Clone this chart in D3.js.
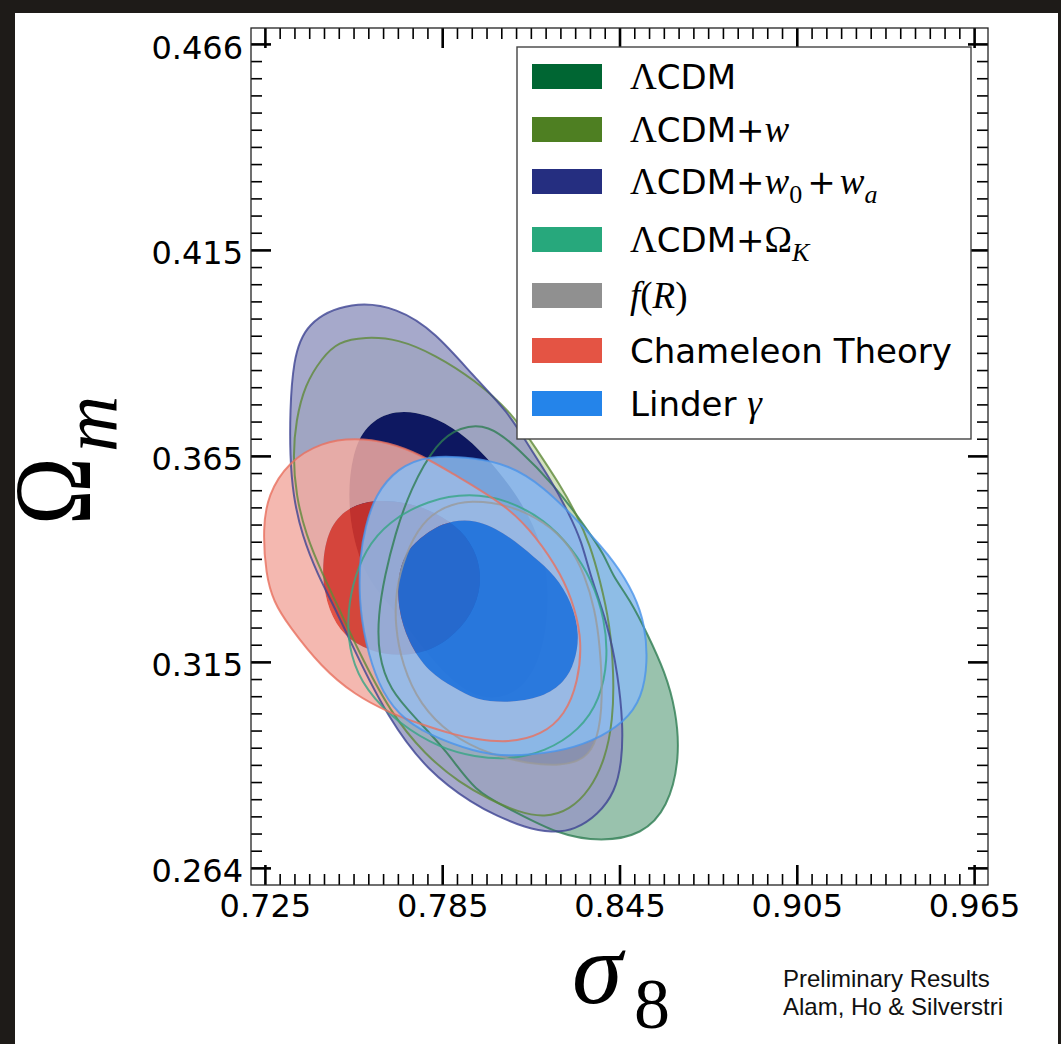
<!DOCTYPE html>
<html><head><meta charset="utf-8">
<script src="https://cdn.jsdelivr.net/npm/d3@7"></script>
<style>body{margin:0;background:#fff;} svg{display:block}</style>
</head><body>
<svg id="c" width="1061" height="1044"></svg>
<script>
// ---------- data ----------
const xTickValues = [0.725, 0.785, 0.845, 0.905, 0.965];
const xTickLabels = ["0.725", "0.785", "0.845", "0.905", "0.965"];
const yTickValues = [0.264, 0.3145, 0.365, 0.4155, 0.466];
const yTickLabels = ["0.264", "0.315", "0.365", "0.415", "0.466"];
const xLimits = [0.7203, 0.9697];
const yLimits = [0.2598, 0.4699];

const models = ["ΛCDM", "ΛCDM+w", "ΛCDM+w0+wa", "ΛCDM+ΩK", "f(R)", "Chameleon Theory", "Linder γ"];
const modelColors = ["#006633", "#4e7f22", "#252e80", "#27a87c", "#909090", "#e45444", "#2484ea"];

// contour outlines: [sigma8, Omega_m]
const lcdmOuter = [[0.8005,0.3728],[0.8106,0.3670],[0.8232,0.3576],[0.8333,0.3478],[0.8401,0.3405],[0.8425,0.3358],[0.8486,0.3297],[0.8546,0.3211],[0.8604,0.3120],[0.8641,0.3027],[0.8655,0.2910],[0.8614,0.2787],[0.8526,0.2721],[0.8391,0.2704],[0.8242,0.2721],[0.8073,0.2787],[0.7961,0.2826],[0.7869,0.2924],[0.7758,0.3008],[0.7673,0.3076],[0.7633,0.3162],[0.7633,0.3260],[0.7656,0.3358],[0.7690,0.3456],[0.7741,0.3567],[0.7832,0.3684],[0.7910,0.3721]];
const wOuter = [[0.7589,0.3942],[0.7700,0.3937],[0.7826,0.3898],[0.7961,0.3836],[0.8086,0.3755],[0.8164,0.3672],[0.8249,0.3579],[0.8306,0.3505],[0.8350,0.3432],[0.8384,0.3346],[0.8418,0.3236],[0.8431,0.3113],[0.8428,0.3003],[0.8401,0.2905],[0.8350,0.2831],[0.8282,0.2782],[0.8198,0.2763],[0.8106,0.2777],[0.8012,0.2807],[0.7910,0.2848],[0.7792,0.2917],[0.7673,0.3022],[0.7565,0.3174],[0.7497,0.3282],[0.7443,0.3363],[0.7389,0.3456],[0.7355,0.3554],[0.7345,0.3652],[0.7355,0.3736],[0.7385,0.3824],[0.7443,0.3890],[0.7497,0.3930]];
const w0waOuter = [[0.7545,0.4030],[0.7700,0.4013],[0.7826,0.3954],[0.7961,0.3841],[0.8073,0.3758],[0.8140,0.3677],[0.8222,0.3586],[0.8276,0.3513],[0.8323,0.3439],[0.8350,0.3358],[0.8411,0.3236],[0.8445,0.3113],[0.8462,0.2991],[0.8458,0.2900],[0.8435,0.2826],[0.8377,0.2770],[0.8299,0.2733],[0.8222,0.2726],[0.8130,0.2738],[0.8029,0.2770],[0.7961,0.2794],[0.7802,0.2875],[0.7666,0.3008],[0.7555,0.3170],[0.7487,0.3277],[0.7429,0.3358],[0.7375,0.3456],[0.7345,0.3554],[0.7335,0.3652],[0.7335,0.3758],[0.7345,0.3880],[0.7385,0.3978]];
const w0waInner = [[0.7690,0.3765],[0.7809,0.3751],[0.7910,0.3709],[0.7995,0.3652],[0.8079,0.3579],[0.8164,0.3481],[0.8208,0.3370],[0.8208,0.3248],[0.8181,0.3150],[0.8120,0.3076],[0.8029,0.3052],[0.7944,0.3064],[0.7842,0.3125],[0.7741,0.3223],[0.7656,0.3297],[0.7589,0.3358],[0.7545,0.3456],[0.7531,0.3554],[0.7545,0.3652],[0.7589,0.3726]];
const okOuter = [[0.7944,0.3559],[0.8073,0.3542],[0.8198,0.3493],[0.8289,0.3424],[0.8357,0.3346],[0.8401,0.3248],[0.8411,0.3150],[0.8384,0.3052],[0.8316,0.2978],[0.8198,0.2924],[0.8073,0.2905],[0.7961,0.2912],[0.7842,0.2934],[0.7707,0.2991],[0.7589,0.3076],[0.7538,0.3162],[0.7528,0.3248],[0.7545,0.3334],[0.7589,0.3420],[0.7666,0.3488],[0.7802,0.3542]];
const frOuter = [[0.7944,0.3542],[0.8079,0.3530],[0.8198,0.3488],[0.8282,0.3432],[0.8333,0.3358],[0.8367,0.3272],[0.8384,0.3187],[0.8394,0.3052],[0.8377,0.2954],[0.8333,0.2905],[0.8249,0.2890],[0.8147,0.2895],[0.8012,0.2917],[0.7876,0.2966],[0.7775,0.3040],[0.7714,0.3138],[0.7690,0.3236],[0.7693,0.3321],[0.7724,0.3407],[0.7781,0.3488],[0.7859,0.3527]];
const chamOuter = [[0.7253,0.3358],[0.7280,0.3292],[0.7328,0.3236],[0.7443,0.3130],[0.7555,0.3064],[0.7666,0.3022],[0.7781,0.2991],[0.7893,0.2966],[0.7961,0.2956],[0.8073,0.2946],[0.8188,0.2966],[0.8266,0.3015],[0.8310,0.3096],[0.8323,0.3194],[0.8299,0.3277],[0.8255,0.3358],[0.8164,0.3456],[0.8073,0.3523],[0.7961,0.3574],[0.7893,0.3603],[0.7781,0.3652],[0.7666,0.3684],[0.7555,0.3694],[0.7443,0.3684],[0.7328,0.3635],[0.7260,0.3554],[0.7243,0.3473]];
const chamInner = [[0.7470,0.3481],[0.7538,0.3527],[0.7622,0.3542],[0.7724,0.3537],[0.7826,0.3513],[0.7917,0.3469],[0.7971,0.3407],[0.7985,0.3334],[0.7951,0.3260],[0.7876,0.3199],[0.7775,0.3162],[0.7656,0.3160],[0.7555,0.3187],[0.7487,0.3236],[0.7450,0.3309],[0.7443,0.3395]];
const lindOuter = [[0.7802,0.3652],[0.7961,0.3645],[0.8073,0.3628],[0.8188,0.3579],[0.8333,0.3473],[0.8435,0.3390],[0.8502,0.3309],[0.8536,0.3236],[0.8546,0.3145],[0.8526,0.3057],[0.8469,0.2998],[0.8357,0.2949],[0.8242,0.2924],[0.8073,0.2912],[0.7961,0.2924],[0.7802,0.2966],[0.7700,0.3015],[0.7633,0.3089],[0.7589,0.3194],[0.7568,0.3297],[0.7572,0.3407],[0.7589,0.3473],[0.7622,0.3554],[0.7700,0.3621]];
const lindInner = [[0.7961,0.3498],[0.8073,0.3456],[0.8164,0.3400],[0.8232,0.3358],[0.8289,0.3292],[0.8316,0.3211],[0.8299,0.3145],[0.8266,0.3096],[0.8188,0.3057],[0.8073,0.3044],[0.7961,0.3052],[0.7893,0.3081],[0.7802,0.3120],[0.7734,0.3194],[0.7700,0.3277],[0.7700,0.3358],[0.7724,0.3407],[0.7758,0.3439],[0.7849,0.3488]];

// legend label pieces: [text, style]
const legendLabels = [
  [["Λ","serif"],["CDM","sans"]],
  [["Λ","serif"],["CDM+","sans"],["w","ital"]],
  [["Λ","serif"],["CDM+","sans"],["w","ital"],["0","sub"],["+","sans"],["w","ital"],["a","subi"]],
  [["Λ","serif"],["CDM+","sans"],["Ω","serif"],["K","subi"]],
  [["f","ital"],["(","serif"],["R","ital"],[")","serif"]],
  [["Chameleon Theory","sans"]],
  [["Linder ","sans"],["γ","ital"]]
];
const noteLines = ["Preliminary Results", "Alam, Ho & Silverstri"];

// ---------- layout ----------
const W = 1061, H = 1044;
const plot = {l: 251, r: 988, t: 28, b: 885};
const svg = d3.select("#c");
svg.append("rect").attr("width", W).attr("height", H).attr("fill", "#fff");
const dark = "#1e1b18";
svg.append("rect").attr("x",0).attr("y",0).attr("width",W).attr("height",13).attr("fill",dark);
svg.append("rect").attr("x",0).attr("y",0).attr("width",15).attr("height",H).attr("fill",dark);
svg.append("rect").attr("x",1058).attr("y",0).attr("width",3).attr("height",H).attr("fill",dark);

const x = d3.scaleLinear().domain(xLimits).range([plot.l, plot.r]);
const y = d3.scaleLinear().domain(yLimits).range([plot.b, plot.t]);

svg.append("clipPath").attr("id","clip").append("rect")
  .attr("x",plot.l).attr("y",plot.t).attr("width",plot.r-plot.l).attr("height",plot.b-plot.t);

const line = d3.line().x(d => x(d[0])).y(d => y(d[1])).curve(d3.curveBasisClosed);
const gC = svg.append("g").attr("clip-path","url(#clip)");

// filled bands (2-sigma band excludes the 1-sigma region, as contourf does)
const fills = [
  {outer: lcdmOuter, fill:"#87b79f", op:0.85},
  {outer: wOuter, fill:"#cbdcb4", op:0.85},
  {outer: w0waOuter, hole: w0waInner, fill:"#969ac2", op:0.85},
  {outer: w0waInner, fill:"#030d5c", op:0.95},
  {outer: okOuter, fill:"#8fcdb5", op:0.2},
  {outer: frOuter, fill:"#5c6a88", op:0.3},
  {outer: chamOuter, hole: chamInner, fill:"#f2aba2", op:0.85},
  {outer: chamInner, fill:"#dd3625", op:0.86},
  {outer: lindOuter, hole: lindInner, fill:"#8cbcf0", op:0.85},
  {outer: lindInner, fill:"#0c71e6", op:0.86}
];
fills.forEach(f => {
  let d = line(f.outer);
  if (f.hole) d += line(f.hole.slice().reverse());
  gC.append("path").attr("d", d).attr("fill", f.fill).attr("fill-opacity", f.op)
    .attr("fill-rule", "evenodd").attr("stroke", "none");
});

const outlines = [
  {pts: lcdmOuter, c:"#2e7d52"},
  {pts: wOuter, c:"#5f8a3a"},
  {pts: w0waOuter, c:"#3d4492"},
  {pts: okOuter, c:"#36a585"},
  {pts: frOuter, c:"#9a9a9a"},
  {pts: chamOuter, c:"#e8705f"},
  {pts: lindOuter, c:"#4a93ea"}
];
outlines.forEach(o => gC.append("path").attr("d", line(o.pts)).attr("fill","none").attr("stroke", o.c).attr("stroke-width", 2).attr("stroke-opacity", 0.8));

// ---------- axes ----------
const xMinor = d3.range(0, 49).map(i => 0.725 + i * 0.005).filter((d, i) => i % 12 !== 0);
const yMinor = d3.range(0, 49).map(i => 0.264 + i * (0.202 / 48)).filter((d, i) => i % 12 !== 0);

function style(g, w) {
  g.select(".domain").remove();
  g.selectAll(".tick line").attr("stroke", "#000").attr("stroke-width", w);
  g.attr("font-family", "DejaVu Sans").attr("font-size", 32);
  g.selectAll(".tick text").attr("fill", "#000");
}
svg.append("g").attr("transform", `translate(${plot.l},0)`)
  .call(d3.axisLeft(y).tickValues(yMinor).tickSize(-11).tickFormat("")).call(g => style(g, 1.6));
svg.append("g").attr("transform", `translate(${plot.l},0)`)
  .call(d3.axisLeft(y).tickValues(yTickValues).tickSize(-20).tickPadding(8).tickFormat((d, i) => yTickLabels[i]))
  .call(g => { style(g, 2.6); g.selectAll(".tick text").attr("dy", "0.44em"); });
svg.append("g").attr("transform", `translate(${plot.r},0)`)
  .call(d3.axisRight(y).tickValues(yMinor).tickSize(-11).tickFormat("")).call(g => style(g, 1.6));
svg.append("g").attr("transform", `translate(${plot.r},0)`)
  .call(d3.axisRight(y).tickValues(yTickValues).tickSize(-20).tickFormat("")).call(g => style(g, 2.6));
svg.append("g").attr("transform", `translate(0,${plot.b})`)
  .call(d3.axisBottom(x).tickValues(xMinor).tickSize(-11).tickFormat("")).call(g => style(g, 1.6));
svg.append("g").attr("transform", `translate(0,${plot.b})`)
  .call(d3.axisBottom(x).tickValues(xTickValues).tickSize(-20).tickPadding(9).tickFormat((d, i) => xTickLabels[i]))
  .call(g => style(g, 2.6));
svg.append("g").attr("transform", `translate(0,${plot.t})`)
  .call(d3.axisTop(x).tickValues(xMinor).tickSize(-11).tickFormat("")).call(g => style(g, 1.6));
svg.append("g").attr("transform", `translate(0,${plot.t})`)
  .call(d3.axisTop(x).tickValues(xTickValues).tickSize(-20).tickFormat("")).call(g => style(g, 2.6));

svg.append("rect").attr("x", plot.l).attr("y", plot.t).attr("width", plot.r - plot.l).attr("height", plot.b - plot.t)
  .attr("fill", "none").attr("stroke", "#222").attr("stroke-width", 1.3);

// ---------- legend ----------
const leg = svg.append("g");
leg.append("rect").attr("x", 517).attr("y", 47).attr("width", 454).attr("height", 392)
  .attr("fill", "#fff").attr("stroke", "#444").attr("stroke-width", 1.4);
const rowY = [76.5, 129.5, 181.5, 239.5, 295.5, 350.5, 403.5];
const fontOf = {
  sans: {f: "DejaVu Sans", s: 34, st: "normal", sub: 0},
  serif: {f: "Liberation Serif", s: 37, st: "normal", sub: 0},
  ital: {f: "Liberation Serif", s: 37, st: "italic", sub: 0},
  sub: {f: "Liberation Serif", s: 26, st: "normal", sub: 1},
  subi: {f: "Liberation Serif", s: 26, st: "italic", sub: 1}
};
models.forEach((m, i) => {
  leg.append("rect").attr("x", 532).attr("y", rowY[i] - 12.5).attr("width", 70).attr("height", 25)
    .attr("fill", modelColors[i]);
  const t = leg.append("text").attr("x", 630).attr("y", rowY[i] + 12.5).attr("fill", "#000");
  let cur = 0;
  legendLabels[i].forEach(([txt, k], j) => {
    const fo = fontOf[k];
    const shift = fo.sub ? 9 : 0;
    const ts = t.append("tspan").text(txt).attr("font-family", fo.f).attr("font-size", fo.s)
      .attr("font-style", fo.st).attr("dy", shift - cur);
    if (txt === "+" && j > 3) ts.attr("dx", 5);
    if (txt === "w" && j > 4) ts.attr("dx", 4);
    cur = shift;
  });
});

// ---------- axis labels ----------
svg.append("text").attr("transform", "translate(90,525) rotate(-90) scale(0.83,1)")
  .attr("font-family", "Liberation Serif").attr("font-size", 110).attr("fill", "#000").text("Ω");
svg.append("text").attr("transform", "translate(117,452) rotate(-90)")
  .attr("font-family", "Liberation Serif").attr("font-style", "italic").attr("font-size", 78).attr("fill", "#000").text("m");
svg.append("text").attr("x", 572).attr("y", 1003)
  .attr("font-family", "Liberation Serif").attr("font-style", "italic").attr("font-size", 102).attr("fill", "#000").text("σ");
svg.append("text").attr("x", 634).attr("y", 1028)
  .attr("font-family", "Liberation Serif").attr("font-size", 72).attr("fill", "#000").text("8");

// ---------- note ----------
noteLines.forEach((s, i) => svg.append("text").attr("x", 783).attr("y", 987 + i * 28)
  .attr("font-family", "Liberation Sans").attr("font-size", 24).attr("fill", "#111").text(s));
</script>
</body></html>
